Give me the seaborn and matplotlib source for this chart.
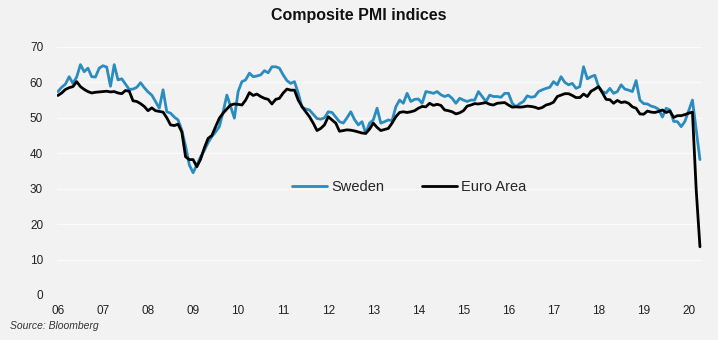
import numpy as np
import pandas as pd
import matplotlib
matplotlib.use("Agg")
import matplotlib.pyplot as plt
import seaborn as sns

# Monthly composite PMI, Jan 2006 - Apr 2020
start_month = "2006-01"
n_months = 172

sweden = [
    # 2006
    57.4, 58.6, 59.5, 61.6, 59.7, 61.5, 65.0, 63.0, 64.0, 61.6, 61.5, 64.0,
    # 2007
    64.7, 64.3, 58.9, 65.0, 60.7, 61.0, 59.5, 58.0, 58.1, 58.6, 59.9, 58.5,
    # 2008
    57.3, 56.4, 54.6, 52.7, 57.9, 51.7, 51.3, 50.2, 49.4, 46.5, 42.0, 36.7,
    # 2009
    34.5, 36.7, 39.0, 40.8, 43.0, 44.7, 46.0, 47.5, 51.7, 56.4, 53.1, 49.9,
    # 2010
    57.4, 60.2, 60.7, 62.6, 61.6, 61.8, 62.1, 63.3, 62.7, 64.4, 64.4, 64.0,
    # 2011
    62.1, 60.5, 59.7, 60.2, 57.0, 53.0, 52.5, 52.2, 51.0, 49.8, 49.6, 50.0,
    # 2012
    51.7, 51.5, 50.2, 48.9, 48.5, 50.0, 51.7, 49.5, 48.0, 48.9, 45.6, 48.5,
    # 2013
    49.4, 52.7, 48.5, 48.9, 49.4, 49.2, 53.1, 55.0, 54.1, 56.9, 54.6, 55.2,
    # 2014
    55.3, 54.1, 57.4, 57.2, 56.9, 57.4, 56.5, 56.0, 56.4, 55.5, 54.1, 55.5,
    # 2015
    55.0, 54.6, 55.0, 55.0, 57.4, 56.0, 54.6, 56.4, 56.0, 56.0, 55.8, 56.9,
    # 2016
    56.9, 54.1, 53.1, 54.0, 54.6, 56.2, 55.8, 56.0, 57.4, 57.9, 58.3, 58.6,
    # 2017
    60.2, 59.3, 61.6, 60.0, 59.3, 59.7, 58.3, 58.8, 64.4, 61.0, 61.6, 62.0,
    # 2018
    58.8, 57.4, 57.0, 58.3, 56.9, 57.4, 59.3, 58.1, 57.8, 57.4, 60.5, 55.0,
    # 2019
    54.0, 53.9, 53.3, 53.0, 52.4, 50.2, 52.7, 52.2, 49.0, 48.9, 47.5, 49.0,
    # 2020
    52.0, 55.0, 46.5, 38.2,
]

euro_area = [
    # 2006
    56.3, 57.0, 58.0, 58.5, 58.8, 60.2, 58.8, 58.0, 57.4, 57.0, 57.2, 57.3,
    # 2007
    57.4, 57.5, 57.3, 57.4, 57.0, 56.8, 57.7, 57.5, 54.8, 54.6, 54.0, 53.2,
    # 2008
    52.0, 52.8, 52.0, 51.8, 51.6, 50.0, 48.0, 47.8, 48.2, 46.0, 39.0, 38.2,
    # 2009
    38.2, 36.2, 38.3, 41.5, 44.2, 45.0, 47.5, 49.9, 51.3, 52.5, 53.6, 53.9,
    # 2010
    53.8, 53.6, 55.0, 57.1, 56.3, 56.7, 56.0, 55.5, 55.2, 53.9, 55.2, 55.5,
    # 2011
    57.0, 58.1, 57.8, 57.8, 55.0, 53.2, 51.7, 50.3, 48.5, 46.4, 47.0, 48.0,
    # 2012
    50.3, 49.4, 48.5, 46.2, 46.4, 46.6, 46.5, 46.3, 46.0, 45.7, 45.6, 46.8,
    # 2013
    48.5, 47.3, 46.4, 46.7, 47.0, 48.5, 50.3, 51.5, 51.7, 51.5, 51.7, 52.0,
    # 2014
    52.7, 53.2, 53.1, 54.1, 53.5, 53.8, 53.5, 52.2, 52.0, 51.7, 51.1, 51.4,
    # 2015
    52.0, 53.3, 53.6, 54.0, 53.9, 54.1, 54.3, 53.8, 53.6, 54.1, 54.2, 54.3,
    # 2016
    53.6, 53.0, 53.1, 53.0, 53.1, 53.3, 53.2, 53.0, 52.6, 52.9, 53.6, 53.9,
    # 2017
    54.4, 56.0, 56.4, 56.8, 56.8, 56.3, 55.7, 55.7, 56.7, 56.0, 57.5, 58.1,
    # 2018
    58.8, 57.1, 55.2, 55.1, 54.1, 54.9, 54.3, 54.5, 54.1, 53.1, 52.7, 51.1,
    # 2019
    51.0, 51.9, 51.6, 51.5, 51.8, 52.2, 51.5, 51.9, 50.1, 50.6, 50.6, 50.9,
    # 2020
    51.3, 51.6, 29.7, 13.6,
]

series_names = ["Sweden", "Euro Area"]
series_colors = ["#2a8cbf", "#000000"]

year_ticks = list(range(2006, 2021))
year_labels = ["06", "07", "08", "09", "10", "11", "12", "13", "14",
               "15", "16", "17", "18", "19", "20"]
y_ticks = [0, 10, 20, 30, 40, 50, 60, 70]

# Long-format table with a decimal-year time axis
dates = pd.period_range(start_month, periods=n_months, freq="M")
t = dates.year + (dates.month - 1) / 12.0
df = pd.concat([
    pd.DataFrame({"t": t, "PMI": sweden, "Series": series_names[0]}),
    pd.DataFrame({"t": t, "PMI": euro_area, "Series": series_names[1]}),
], ignore_index=True)

sns.set_theme(style="white")
plt.rcParams["font.family"] = ["Liberation Sans", "DejaVu Sans"]

bg = "#f2f2f2"
fig = plt.figure(figsize=(7.18, 3.40), dpi=100, facecolor=bg)
ax = fig.add_axes([0.0794, 0.1324, 0.8986, 0.7296])
ax.set_facecolor(bg)

for y in y_ticks:
    ax.axhline(y, color="#fbfbfb", lw=0.9, zorder=0)

sns.lineplot(data=df, x="t", y="PMI", hue="Series",
             palette=dict(zip(series_names, series_colors)),
             hue_order=series_names, linewidth=2.0, ax=ax, legend=False,
             zorder=3)

ax.set_xlim(2005.98, 2020.30)
ax.set_ylim(0, 70)
ax.set_xticks(year_ticks)
ax.set_xticklabels(year_labels, fontsize=8.5, color="#222222")
ax.set_yticks(y_ticks)
ax.set_yticklabels([str(v) for v in y_ticks], fontsize=8.5, color="#222222")
ax.tick_params(axis="x", length=0, pad=7)
ax.tick_params(axis="y", length=0, pad=10)
ax.set_xlabel("")
ax.set_ylabel("")
for s in ax.spines.values():
    s.set_visible(False)

handles = [plt.Line2D([], [], color=c, lw=2.0) for c in series_colors]
ax.legend(handles, series_names, loc="center", bbox_to_anchor=(0.546, 0.435),
          ncol=2, frameon=False, fontsize=10.5, handlelength=2.4,
          handletextpad=0.3, columnspacing=2.6)

fig.text(0.5, 0.955, "Composite PMI indices", ha="center", va="center",
         fontsize=11.5, fontweight="bold", color="#111111")
fig.text(0.014, 0.04, "Source: Bloomberg", ha="left", va="center",
         fontsize=7.5, style="italic", color="#333333")

fig.savefig("out.png", dpi=100, facecolor=bg)
